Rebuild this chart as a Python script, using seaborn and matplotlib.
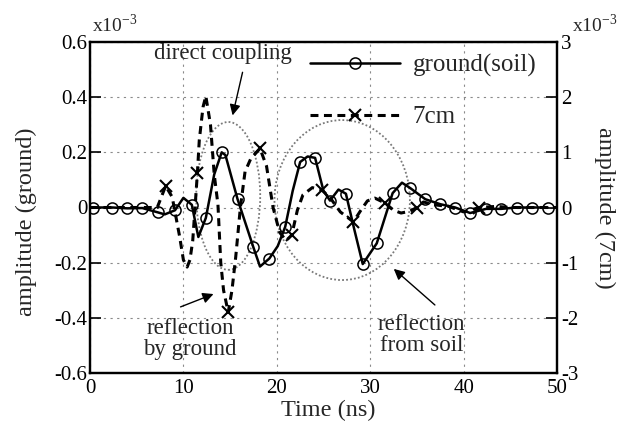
import numpy as np
import pandas as pd
import matplotlib
matplotlib.use("Agg")
import matplotlib.pyplot as plt
import seaborn as sns
from matplotlib.patches import Ellipse
from matplotlib.ticker import MultipleLocator

# ---- data ----
# ground(soil): amplitude x1e-3 (left axis); 1 = circle marker at this vertex
ground_t = [0.3, 2.4, 4.0, 5.6, 7.3, 8.0, 9.1, 10.0, 10.9, 11.6, 12.4, 13.3, 14.1, 14.5,
            15.8, 17.5, 18.2, 19.2, 20.1, 20.9, 21.7, 22.5, 23.3, 24.1, 25.0, 25.7, 26.6,
            27.4, 28.3, 29.2, 30.7, 32.4, 33.4, 34.3, 35.9, 37.5, 39.1, 40.7, 42.4, 44.0,
            45.7, 47.3, 49.0]
ground_v = [0.0, 0.0, -0.003, -0.002, -0.018, -0.025, -0.010, 0.035, 0.010, -0.107, -0.038,
            0.120, 0.200, 0.190, 0.030, -0.145, -0.214, -0.185, -0.140, -0.070, 0.060, 0.165,
            0.185, 0.180, 0.060, 0.025, 0.065, 0.050, -0.080, -0.205, -0.130, 0.052, 0.090,
            0.070, 0.030, 0.012, 0.000, -0.020, -0.005, -0.005, 0.000, 0.000, 0.000]
ground_mark = [1, 1, 1, 1, 1, 0, 1, 0, 1, 0, 1, 0, 1, 0, 1, 1, 0, 1, 0, 1, 0, 1, 0, 1, 0, 1, 0,
               1, 0, 1, 1, 1, 0, 1, 1, 1, 1, 1, 1, 1, 1, 1, 1]

# 7cm: amplitude x1e-3 (right axis); 1 = cross marker at this vertex
cm7_t = [0.0, 7.2, 8.1, 8.8, 9.6, 10.0, 10.4, 10.7, 11.0, 11.5, 11.7, 12.1, 12.4, 12.9,
         13.3, 13.7, 14.0, 14.3, 14.8, 15.2, 15.6, 16.1, 16.6, 17.2, 18.2, 18.9, 19.6,
         20.3, 21.0, 21.6, 22.2, 22.8, 23.8, 24.8, 25.7, 26.8, 28.2, 29.0, 29.7, 30.5,
         31.6, 32.5, 33.3, 34.2, 35.0, 35.7, 36.8, 38.4, 40.0, 41.7, 43.5, 45.0, 50.0]
cm7_v = [0.0, 0.0, 0.39, 0.19, -0.53, -0.95, -1.08, -0.95, -0.60, 0.63, 1.22, 1.82, 2.02,
         1.50, 0.60, 0.05, -1.00, -1.50, -1.90, -1.50, -0.90, 0.00, 0.65, 0.88, 1.07, 0.75,
         0.00, -0.45, -0.60, -0.50, -0.05, 0.23, 0.36, 0.32, 0.18, -0.08, -0.26, -0.05,
         0.12, 0.17, 0.08, -0.05, -0.10, -0.07, 0.00, 0.10, 0.05, 0.02, -0.08, 0.00, 0.02,
         0.00, 0.00]
cm7_mark = [0, 0, 1, 0, 0, 0, 0, 0, 0, 1, 0, 0, 0, 0, 0, 0, 0, 0, 1, 0, 0, 0, 0, 0, 1, 0, 0,
            0, 0, 1, 0, 0, 0, 1, 0, 0, 1, 0, 0, 0, 1, 0, 0, 0, 1, 0, 0, 0, 0, 1, 0, 0, 0]

x_ticks = [0, 10, 20, 30, 40, 50]
left_ticks = [0.6, 0.4, 0.2, 0.0, -0.2, -0.4, -0.6]
left_labels = ["0.6", "0.4", "0.2", "0", "-0.2", "-0.4", "-0.6"]
right_ticks = [3, 2, 1, 0, -1, -2, -3]
right_labels = ["3", "2", "1", "0", "-1", "-2", "-3"]

# ---- style ----
sns.set_theme(style="white")
plt.rcParams["font.family"] = ["Liberation Serif", "DejaVu Serif"]
plt.rcParams["mathtext.fontset"] = "custom"
plt.rcParams["mathtext.rm"] = "Liberation Serif"
plt.rcParams["axes.unicode_minus"] = False

W, H = 627, 425
fig = plt.figure(figsize=(W / 100, H / 100), dpi=100)
L, R, T, B = 90, 557, 42, 373
ax = fig.add_axes([L / W, 1 - B / H, (R - L) / W, (B - T) / H])
ax2 = ax.twinx()

ground_df = pd.DataFrame({"t": ground_t, "v": ground_v})
cm7_df = pd.DataFrame({"t": cm7_t, "v": cm7_v})
g_idx = [i for i, m in enumerate(ground_mark) if m]
c_idx = [i for i, m in enumerate(cm7_mark) if m]

sns.lineplot(data=ground_df, x="t", y="v", ax=ax, color="black", lw=1.8,
             marker="o", ms=8, mfc="none", mec="black", mew=1.1,
             markevery=g_idx, label="ground(soil)", legend=False)
sns.lineplot(data=cm7_df, x="t", y="v", ax=ax2, color="black", lw=2.2,
             linestyle=(0, (2.6, 1.8)), marker="x", ms=9, mec="black", mew=1.5,
             markevery=c_idx, label="7cm", legend=False)

ax.set_xlim(0, 50)
ax.set_ylim(-0.6, 0.6)
ax2.set_ylim(-3, 3)
ax.set_xticks(x_ticks, [str(v) for v in x_ticks])
ax.xaxis.set_minor_locator(MultipleLocator(2))
ax.set_yticks(left_ticks, left_labels)
ax2.set_yticks(right_ticks, right_labels)
ax.set_xlabel("")
ax.set_ylabel("")
ax2.set_ylabel("")

ax.grid(True, which="major", color="#8a8a8a", linestyle=(0, (2, 4)), lw=0.8)
ax.tick_params(axis="both", which="both", direction="in", top=False, right=False,
               labelsize=15, colors="black")
ax.tick_params(axis="x", which="major", length=8, width=1.2, pad=4)
ax.tick_params(axis="x", which="minor", length=4, width=1.0)
ax.tick_params(axis="y", which="major", length=8, width=1.2, pad=2)
ax2.tick_params(axis="y", direction="in", length=8, width=1.2, pad=3, labelsize=15,
                colors="black")
for a in (ax, ax2):
    for s in a.spines.values():
        s.set_color("black")
        s.set_linewidth(1.6)

# highlight ellipses
ax.add_patch(Ellipse((14.8, 0.042), 6.85, 0.536, fill=False, edgecolor="#7a7a7a",
                     lw=1.3, linestyle=(0, (1, 1.2))))
ax.add_patch(Ellipse((27.0, 0.027), 14.5, 0.58, fill=False, edgecolor="#7a7a7a",
                     lw=1.3, linestyle=(0, (1, 1.2))))

arrow = dict(arrowstyle="-|>", color="black", lw=1.0, mutation_scale=16)
ax.annotate("", xy=(15.2, 0.324), xytext=(16.4, 0.50), arrowprops=arrow)
ax.text(14.24, 0.56, "direct coupling", fontsize=16.5, ha="center", va="center")
ax.annotate("", xy=(13.5, -0.31), xytext=(9.42, -0.364), arrowprops=arrow)
ax.text(10.7, -0.476, "reflection\nby ground", fontsize=16.5, ha="center", va="center",
        linespacing=1.0)
ax.annotate("", xy=(32.3, -0.216), xytext=(37.15, -0.36), arrowprops=arrow)
ax.text(35.5, -0.462, "reflection\nfrom soil", fontsize=16.5, ha="center", va="center",
        linespacing=1.0)

# legend
h1 = ax.get_lines()[0]
h2 = ax2.get_lines()[0]
ax2.legend([h1, h2], ["ground(soil)", "7cm"], loc="upper left",
           bbox_to_anchor=(310 / W, 1 - 54 / H), bbox_transform=fig.transFigure,
           frameon=False, fontsize=18, handlelength=3.6, handletextpad=0.5,
           labelspacing=1.15, borderpad=0, borderaxespad=0, numpoints=1)

# axis labels and exponents
fig.text(26 / W, 1 - 222 / H, "amplitude (ground)", rotation=90, ha="center",
         va="center", fontsize=17.5)
fig.text(605 / W, 1 - 208 / H, "amplitude (7cm)", rotation=270, ha="center",
         va="center", fontsize=17.5)
fig.text(328 / W, 1 - 410 / H, "Time (ns)", ha="center", va="center", fontsize=17.5)
fig.text(92 / W, 1 - 32 / H, r"x10$^{\mathregular{-3}}$", ha="left", va="baseline",
         fontsize=14)
fig.text(572 / W, 1 - 32 / H, r"x10$^{\mathregular{-3}}$", ha="left", va="baseline",
         fontsize=14)

fig.savefig("out.png", dpi=100)
